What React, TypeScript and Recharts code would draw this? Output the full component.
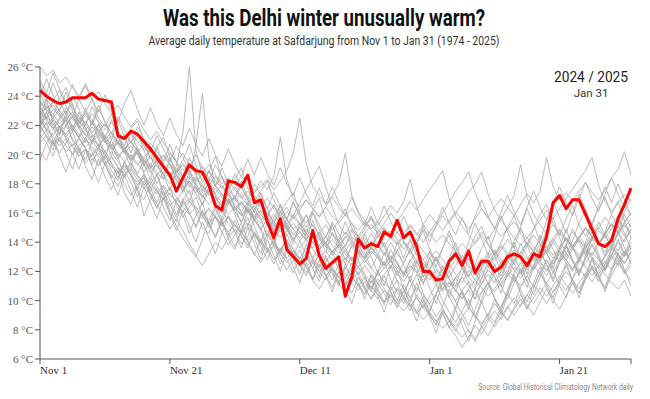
import { Line, LineChart, XAxis, YAxis } from 'recharts';

const seasonLabel = '2024 / 2025';
const lastDayLabel = 'Jan 31';

// x ticks every 20 days, last one only closes the axis
const xTickDays = [0, 20, 40, 60, 80, 91];
const xTickLabels = ['Nov 1', 'Nov 21', 'Dec 11', 'Jan 1', 'Jan 21', ''];
const yTicks = [6, 8, 10, 12, 14, 16, 18, 20, 22, 24, 26];

// 2024/25, Nov 1 .. Jan 31
const current = [
  24.4, 24.0, 23.7, 23.5, 23.6, 23.9, 23.9, 23.9, 24.2, 23.8,
  23.7, 23.6, 21.3, 21.1, 21.6, 21.4, 20.9, 20.4, 19.8, 19.2,
  18.6, 17.5, 18.4, 19.3, 18.9, 18.8, 17.9, 16.5, 16.2, 18.2,
  18.1, 17.8, 18.6, 16.7, 16.9, 15.4, 14.3, 15.6, 13.5, 13.0,
  12.5, 12.9, 14.8, 13.1, 12.2, 12.6, 13.0, 10.3, 11.6, 14.2,
  13.6, 13.9, 13.7, 14.7, 14.4, 15.5, 14.3, 14.7, 13.7, 12.0,
  12.0, 11.4, 11.5, 12.7, 13.2, 12.4, 13.4, 11.9, 12.7, 12.7,
  12.0, 12.3, 13.0, 13.2, 13.0, 12.4, 13.2, 13.0, 14.4, 16.7,
  17.2, 16.3, 16.9, 16.9, 15.9, 14.9, 13.9, 13.7, 14.1, 15.6,
  16.6, 17.7,
];

const past01 = [
  26.0, 25.4, 25.8, 24.9, 25.3, 24.6, 24.0, 24.7, 23.8, 24.3,
  23.5, 22.8, 23.4, 22.6, 21.9, 22.5, 21.7, 21.0, 21.6, 20.8,
  20.2, 19.5, 20.1, 19.3, 18.6, 19.2, 18.4, 17.9, 18.5, 17.6,
  17.1, 17.8, 16.9, 16.3, 16.8, 16.0, 15.4, 16.1, 15.6, 14.9,
  15.3, 14.6, 14.0, 14.7, 13.9, 13.3, 14.1, 13.6, 12.8, 13.4,
  12.9, 13.7, 13.1, 12.4, 13.0, 12.6, 11.9, 12.7, 13.4, 12.8,
  12.2, 12.9, 12.3, 11.6, 12.4, 13.1, 12.5, 11.8, 12.6, 13.3,
  12.7, 13.5, 14.2, 13.6, 12.9, 13.8, 14.5, 13.9, 13.2, 14.0,
  14.8, 14.1, 13.5, 14.3, 15.0, 14.4, 13.8, 14.6, 15.3, 14.7,
  14.0, 14.9,
];
const past02 = [
  20.8, 21.3, 20.6, 21.0, 20.2, 20.7, 19.9, 20.4, 19.6, 20.1,
  19.4, 19.9, 19.1, 18.5, 19.0, 18.3, 17.7, 18.2, 17.5, 16.9,
  17.4, 16.7, 16.1, 16.8, 16.2, 15.6, 16.3, 15.7, 15.1, 15.8,
  15.2, 14.6, 15.3, 14.7, 14.1, 14.8, 14.0, 13.4, 14.1, 13.5,
  12.9, 13.6, 13.0, 12.3, 12.9, 12.2, 11.6, 12.3, 11.7, 11.0,
  11.6, 10.9, 11.5, 10.8, 10.2, 10.9, 10.3, 9.6, 10.2, 9.5,
  9.0, 8.4, 9.1, 8.2, 7.6, 6.8, 7.5, 8.3, 7.7, 8.6,
  9.3, 8.7, 9.5, 10.2, 9.6, 10.4, 11.1, 10.5, 9.8, 10.6,
  11.3, 10.7, 11.5, 12.2, 11.6, 12.4, 11.8, 12.5, 13.2, 12.6,
  13.3, 12.7,
];
const past03 = [
  23.0, 22.4, 23.1, 22.7, 22.0, 22.6, 21.8, 22.3, 21.5, 22.0,
  21.3, 20.6, 21.2, 20.5, 19.8, 20.4, 19.6, 19.0, 19.7, 19.1,
  18.4, 19.2, 21.5, 26.0, 20.3, 18.6, 17.9, 18.5, 17.8, 17.2,
  17.8, 17.1, 16.5, 17.2, 16.6, 15.9, 16.5, 15.8, 15.2, 15.9,
  15.3, 14.6, 15.2, 14.5, 13.9, 14.6, 14.0, 13.4, 14.1, 13.5,
  12.9, 13.6, 13.0, 12.4, 13.1, 12.5, 11.8, 12.4, 11.9, 12.6,
  12.0, 11.4, 12.1, 11.5, 10.9, 11.6, 11.0, 10.4, 11.1, 11.8,
  11.2, 12.0, 12.7, 12.1, 11.5, 12.3, 13.0, 12.4, 11.7, 12.5,
  13.2, 12.6, 12.0, 12.8, 13.5, 12.9, 12.2, 13.0, 13.7, 13.1,
  12.5, 13.3,
];
const past04 = [
  22.1, 22.9, 23.4, 22.8, 22.2, 21.6, 22.3, 22.9, 22.4, 21.7,
  21.1, 21.5, 20.8, 20.3, 20.9, 21.4, 20.6, 19.8, 19.4, 19.9,
  19.3, 18.8, 19.4, 18.9, 18.2, 18.7, 19.3, 18.6, 18.0, 18.4,
  17.9, 18.5, 18.1, 17.4, 17.8, 18.3, 17.6, 18.2, 18.9, 20.1,
  22.5, 19.4, 17.8, 17.2, 16.6, 17.1, 16.4, 15.8, 16.3, 15.7,
  15.1, 15.6, 14.9, 14.3, 14.8, 14.2, 13.5, 14.1, 13.4, 12.8,
  13.3, 12.7, 12.1, 12.8, 13.4, 12.9, 12.3, 11.7, 12.2, 12.9,
  13.5, 12.8, 12.2, 12.7, 13.3, 14.0, 13.4, 12.8, 13.5, 14.2,
  13.6, 13.0, 13.7, 14.4, 13.8, 13.1, 13.9, 14.6, 14.0, 13.4,
  14.2, 14.9,
];
const past05 = [
  21.4, 20.8, 21.5, 22.0, 21.3, 20.6, 21.1, 20.4, 19.9, 20.5,
  20.0, 19.4, 18.8, 19.3, 18.6, 17.9, 18.4, 17.8, 17.3, 17.9,
  17.2, 16.8, 17.5, 18.3, 20.6, 24.2, 19.8, 17.9, 17.3, 16.8,
  16.2, 16.7, 16.1, 15.5, 15.9, 15.3, 14.8, 15.4, 14.9, 14.2,
  14.7, 14.1, 13.6, 14.2, 13.7, 13.1, 13.8, 14.4, 13.9, 13.3,
  12.8, 13.4, 12.9, 12.2, 12.7, 12.1, 11.6, 12.2, 12.8, 12.3,
  11.7, 11.1, 10.6, 11.2, 10.7, 10.1, 10.8, 11.4, 10.9, 10.3,
  10.8, 11.5, 12.1, 11.6, 11.0, 11.7, 12.4, 11.8, 11.2, 11.9,
  12.6, 13.2, 12.7, 12.0, 12.6, 13.3, 12.8, 12.1, 12.9, 13.5,
  13.0, 13.6,
];
const past06 = [
  23.6, 23.0, 22.5, 23.1, 23.7, 23.2, 22.6, 22.1, 22.8, 22.3,
  21.7, 22.2, 21.6, 21.0, 21.5, 20.9, 20.3, 20.8, 20.2, 19.6,
  20.1, 19.5, 18.9, 19.4, 18.8, 18.3, 18.9, 18.2, 17.7, 18.3,
  17.6, 17.0, 17.5, 16.9, 16.4, 17.0, 16.3, 15.8, 16.4, 15.7,
  15.2, 15.8, 15.1, 14.6, 15.2, 14.5, 14.0, 14.7, 14.1, 13.6,
  14.3, 13.7, 14.4, 15.0, 14.5, 13.9, 14.6, 15.2, 14.6, 14.0,
  14.7, 15.4, 14.8, 15.5, 16.1, 15.5, 14.9, 15.6, 16.3, 15.7,
  16.4, 17.0, 16.4, 15.8, 16.6, 17.3, 16.7, 17.5, 19.8, 17.8,
  16.9, 17.4, 16.8, 17.5, 18.1, 17.4, 16.9, 17.6, 18.4, 19.0,
  20.2, 18.6,
];
const past07 = [
  22.3, 21.7, 22.4, 21.9, 21.2, 21.8, 21.1, 20.5, 21.0, 20.3,
  19.7, 20.2, 19.5, 18.9, 19.4, 18.6, 18.0, 17.3, 16.6, 15.8,
  14.9, 15.6, 14.8, 13.9, 13.1, 12.4, 13.2, 14.0, 13.5, 14.3,
  14.9, 14.4, 13.8, 14.5, 13.9, 13.3, 13.8, 13.2, 12.6, 13.1,
  12.5, 11.9, 12.6, 12.0, 11.4, 12.1, 11.6, 11.0, 11.7, 12.3,
  11.8, 11.2, 11.9, 11.3, 10.7, 11.4, 10.8, 10.2, 10.9, 10.4,
  9.8, 10.5, 11.2, 10.6, 10.0, 10.7, 11.3, 10.8, 11.5, 12.1,
  11.6, 11.0, 11.7, 12.3, 11.8, 12.5, 13.1, 12.6, 12.0, 12.7,
  13.3, 12.8, 12.1, 12.9, 13.6, 13.0, 12.4, 13.1, 13.8, 13.2,
  12.6, 13.4,
];
const past08 = [
  22.7, 23.3, 22.8, 22.1, 22.6, 21.9, 22.5, 21.8, 21.2, 21.7,
  21.0, 20.4, 20.9, 20.2, 19.6, 20.1, 19.4, 18.8, 19.3, 18.6,
  18.0, 18.6, 17.9, 17.3, 17.8, 17.2, 16.6, 17.1, 16.5, 15.9,
  16.4, 15.8, 16.3, 15.6, 15.0, 15.5, 14.9, 14.3, 14.8, 14.2,
  13.6, 14.2, 13.5, 12.9, 13.4, 12.8, 12.3, 12.9, 12.4, 11.8,
  12.4, 11.8, 11.2, 11.8, 12.4, 11.9, 11.3, 12.0, 12.6, 12.0,
  11.4, 12.1, 11.5, 10.9, 11.6, 12.2, 11.6, 11.1, 11.8, 12.4,
  11.9, 12.6, 13.2, 12.5, 11.9, 12.6, 13.3, 12.7, 12.1, 12.8,
  13.4, 12.8, 12.2, 12.9, 12.3, 11.7, 12.4, 11.8, 11.2, 10.8,
  11.4, 10.3,
];
const past09 = [
  22.9, 22.3, 21.8, 22.5, 23.0, 22.4, 21.9, 21.3, 21.9, 21.4,
  20.8, 21.3, 20.7, 20.1, 20.6, 20.0, 19.3, 19.8, 19.2, 18.7,
  19.2, 18.6, 18.0, 18.5, 17.9, 17.4, 18.0, 17.3, 16.7, 17.2,
  16.6, 16.1, 16.7, 16.1, 15.5, 16.0, 15.4, 14.9, 15.5, 14.9,
  14.3, 14.9, 14.3, 13.8, 14.4, 13.8, 13.2, 13.8, 14.4, 13.9,
  14.6, 15.2, 14.6, 15.3, 16.0, 15.4, 16.1, 16.8, 16.2, 16.9,
  17.6, 18.2, 18.9, 17.0, 15.8, 15.1, 14.5, 13.9, 14.5, 13.8,
  13.2, 13.8, 13.3, 12.7, 13.3, 12.8, 13.5, 14.1, 13.6, 14.3,
  14.9, 14.3, 13.7, 14.4, 15.0, 14.4, 13.9, 14.6, 15.2, 14.7,
  15.4, 16.0,
];
const past10 = [
  21.9, 21.3, 20.7, 21.2, 20.6, 20.0, 20.6, 21.1, 20.5, 19.9,
  19.3, 19.8, 19.2, 18.6, 19.1, 18.5, 17.9, 18.4, 17.8, 17.2,
  17.7, 17.1, 16.5, 17.0, 16.4, 15.8, 16.3, 15.7, 15.2, 15.7,
  15.1, 14.6, 15.1, 14.5, 13.9, 14.5, 13.9, 13.3, 13.8, 13.2,
  12.7, 13.2, 12.6, 12.0, 12.5, 11.9, 11.3, 11.9, 11.2, 10.7,
  11.3, 10.7, 10.1, 10.7, 10.1, 9.6, 10.2, 9.6, 9.1, 9.7,
  9.1, 8.6, 9.3, 8.7, 8.2, 8.9, 9.5, 9.0, 8.4, 9.1,
  9.8, 9.2, 8.7, 9.4, 10.1, 9.5, 10.2, 10.9, 10.3, 11.0,
  11.7, 11.1, 10.5, 11.2, 11.9, 11.3, 12.0, 12.7, 12.1, 12.8,
  13.4, 12.9,
];
const past11 = [
  23.3, 23.8, 23.2, 22.6, 23.2, 22.7, 22.1, 22.7, 22.2, 21.6,
  22.1, 21.5, 20.9, 21.4, 20.8, 20.2, 20.7, 20.1, 19.5, 20.0,
  19.4, 18.8, 19.3, 18.7, 18.1, 18.6, 18.0, 17.4, 17.9, 17.3,
  16.8, 17.3, 16.7, 17.4, 18.2, 17.6, 18.5, 21.2, 18.3, 17.0,
  16.4, 16.9, 16.3, 15.7, 16.4, 17.2, 18.0, 20.1, 17.2, 16.1,
  15.5, 14.9, 15.4, 14.8, 14.2, 14.7, 14.1, 13.5, 14.0, 13.4,
  12.9, 13.4, 12.8, 12.2, 12.8, 12.3, 11.7, 12.3, 12.9, 12.4,
  13.0, 13.7, 13.1, 12.5, 13.2, 13.9, 13.3, 12.7, 13.4, 14.0,
  13.4, 12.8, 13.5, 14.2, 13.6, 14.3, 15.0, 14.4, 13.8, 14.5,
  15.2, 14.6,
];
const past12 = [
  22.0, 22.6, 22.1, 21.5, 22.0, 22.6, 22.0, 21.4, 20.9, 21.5,
  20.9, 20.3, 20.8, 20.3, 19.7, 20.2, 19.6, 19.1, 19.6, 19.0,
  18.4, 18.9, 18.3, 17.8, 18.4, 17.8, 17.2, 17.7, 17.1, 16.6,
  17.1, 16.5, 16.0, 16.5, 15.9, 15.4, 15.9, 15.3, 14.8, 15.3,
  14.7, 14.2, 14.8, 14.2, 13.7, 14.2, 13.6, 14.3, 14.9, 14.4,
  15.1, 15.7, 15.1, 15.8, 16.5, 16.0, 16.8, 18.3, 16.4, 15.2,
  14.6, 14.0, 14.5, 13.9, 13.4, 13.9, 13.4, 14.0, 14.7, 14.2,
  14.9, 15.6, 16.4, 17.2, 19.3, 17.1, 15.9, 15.2, 14.6, 15.2,
  14.6, 14.1, 14.7, 14.1, 13.6, 14.2, 14.8, 14.3, 14.9, 15.5,
  15.0, 15.6,
];
const past13 = [
  23.7, 23.1, 23.6, 23.0, 22.4, 22.9, 22.3, 21.7, 22.2, 21.6,
  21.0, 21.5, 20.9, 20.4, 20.9, 20.3, 19.8, 20.3, 19.7, 19.1,
  18.6, 19.1, 18.5, 18.0, 18.5, 17.9, 17.4, 17.9, 17.3, 16.8,
  16.3, 16.8, 16.2, 15.7, 16.2, 15.6, 15.1, 15.6, 15.0, 14.5,
  15.0, 14.4, 13.9, 14.4, 13.8, 13.3, 13.8, 13.2, 12.7, 13.2,
  12.6, 13.2, 13.8, 13.3, 12.8, 13.4, 14.0, 13.5, 14.2, 14.9,
  14.4, 15.1, 15.8, 15.3, 16.0, 16.7, 17.4, 18.0, 18.8, 17.3,
  16.2, 15.5, 14.9, 15.4, 14.8, 14.3, 14.9, 15.5, 16.2, 15.6,
  16.3, 17.0, 17.6, 18.3, 18.9, 19.8, 17.9, 16.8, 16.1, 16.7,
  17.3, 16.8,
];
const past14 = [
  21.1, 21.7, 21.2, 20.6, 21.1, 20.5, 19.9, 20.4, 19.8, 19.3,
  19.8, 19.2, 18.7, 19.2, 18.6, 18.1, 18.6, 18.0, 17.5, 17.0,
  16.5, 17.0, 16.4, 15.9, 16.4, 15.8, 15.3, 15.8, 15.2, 14.7,
  15.2, 14.6, 14.1, 14.6, 14.0, 13.5, 14.0, 13.4, 12.9, 13.4,
  12.8, 12.3, 12.8, 12.2, 11.7, 12.2, 11.6, 11.1, 11.6, 11.0,
  10.5, 11.0, 10.4, 9.9, 10.4, 9.8, 9.3, 9.8, 9.2, 8.7,
  9.2, 8.6, 8.1, 8.6, 8.0, 7.5, 8.0, 7.4, 8.1, 8.8,
  8.2, 8.9, 9.6, 9.0, 9.7, 10.4, 9.8, 10.5, 11.2, 10.6,
  11.3, 12.0, 11.4, 10.8, 11.5, 12.2, 11.6, 12.3, 13.0, 12.4,
  13.1, 13.8,
];
const past15 = [
  22.6, 22.0, 22.5, 21.9, 22.4, 21.8, 21.2, 21.7, 21.1, 20.6,
  21.1, 20.5, 19.9, 20.4, 19.8, 19.3, 19.8, 19.2, 18.6, 19.1,
  18.5, 18.0, 18.5, 17.9, 17.4, 17.9, 17.3, 16.8, 17.3, 16.7,
  16.2, 16.7, 16.1, 15.6, 16.1, 15.5, 15.0, 15.5, 16.1, 15.6,
  16.2, 16.9, 16.3, 15.8, 16.4, 15.8, 15.3, 15.9, 15.3, 14.8,
  15.4, 14.8, 14.3, 14.9, 14.3, 13.8, 14.4, 15.1, 14.5, 15.2,
  15.9, 15.3, 16.0, 16.7, 17.5, 18.1, 18.8, 17.4, 16.3, 15.6,
  15.0, 14.4, 14.9, 14.3, 13.8, 14.3, 13.7, 13.2, 13.7, 13.1,
  13.6, 14.2, 13.7, 14.3, 14.9, 14.4, 15.0, 15.7, 15.1, 15.8,
  16.4, 15.9,
];
const past16 = [
  22.4, 21.8, 21.3, 21.9, 21.4, 22.0, 21.4, 20.8, 21.3, 20.7,
  20.2, 20.7, 20.1, 19.5, 20.0, 19.4, 18.8, 19.4, 18.8, 18.3,
  18.8, 18.2, 17.7, 18.2, 17.6, 17.1, 17.6, 17.0, 16.5, 17.0,
  16.4, 15.9, 16.4, 15.8, 15.3, 15.8, 15.2, 14.7, 15.2, 14.6,
  14.1, 14.6, 14.0, 13.5, 14.0, 13.4, 12.9, 13.4, 12.8, 12.3,
  12.8, 12.2, 11.7, 12.2, 12.8, 12.3, 11.8, 12.4, 11.9, 11.4,
  11.9, 11.3, 10.8, 11.3, 10.7, 10.2, 10.7, 10.1, 10.6, 11.2,
  10.6, 11.2, 11.9, 11.3, 12.0, 12.7, 12.1, 12.8, 13.5, 12.9,
  13.6, 14.3, 13.7, 13.1, 13.7, 14.4, 13.8, 14.5, 15.2, 14.6,
  15.3, 16.0,
];
const past17 = [
  24.8, 23.6, 24.9, 23.8, 22.7, 24.0, 23.1, 22.0, 23.3, 22.2,
  21.1, 22.4, 21.3, 20.1, 21.5, 20.4, 19.2, 20.6, 19.5, 18.3,
  19.8, 18.6, 17.4, 18.9, 17.8, 16.5, 17.9, 16.8, 15.6, 17.0,
  15.9, 14.7, 16.2, 15.1, 14.0, 15.4, 14.3, 13.1, 14.6, 13.5,
  12.4, 13.9, 12.8, 11.6, 13.1, 12.0, 11.0, 12.5, 11.4, 12.8,
  11.7, 10.6, 12.1, 11.0, 12.4, 11.3, 10.2, 11.7, 10.6, 12.0,
  10.9, 9.8, 11.3, 10.2, 11.6, 10.5, 9.4, 10.9, 12.2, 11.1,
  12.5, 11.4, 12.8, 14.0, 12.9, 11.8, 13.2, 14.5, 13.3, 12.2,
  13.6, 14.9, 13.7, 12.6, 14.0, 15.3, 14.1, 13.0, 14.4, 15.7,
  14.6, 13.5,
];
const past18 = [
  23.9, 25.2, 24.1, 22.9, 24.3, 23.0, 21.8, 23.2, 22.1, 23.4,
  22.2, 21.0, 22.4, 21.2, 20.1, 21.5, 20.3, 19.1, 20.5, 19.4,
  20.7, 19.5, 18.4, 19.8, 18.7, 17.5, 18.9, 17.8, 19.1, 18.0,
  16.9, 18.2, 17.1, 16.0, 17.4, 16.3, 15.2, 16.6, 15.5, 16.8,
  15.7, 14.6, 16.0, 14.9, 13.8, 15.2, 14.1, 15.4, 14.3, 13.2,
  14.6, 13.5, 14.8, 13.7, 12.6, 14.0, 12.9, 14.2, 13.1, 12.0,
  13.4, 12.3, 13.6, 14.8, 13.7, 12.6, 14.0, 15.3, 14.2, 13.1,
  14.5, 15.8, 14.7, 13.6, 15.0, 16.3, 15.2, 14.1, 15.5, 16.8,
  15.7, 14.6, 16.0, 17.3, 16.2, 15.1, 16.5, 17.8, 16.7, 18.0,
  16.9, 15.8,
];
const past19 = [
  20.2, 19.6, 21.0, 19.9, 18.8, 20.1, 19.0, 20.3, 19.2, 18.1,
  19.4, 18.3, 17.2, 18.6, 17.5, 16.4, 17.8, 16.7, 15.6, 17.0,
  15.9, 14.8, 16.2, 15.1, 14.0, 15.4, 14.3, 13.2, 14.6, 15.8,
  14.7, 13.6, 15.0, 13.9, 12.8, 14.2, 13.1, 12.0, 13.4, 12.3,
  11.2, 12.6, 11.5, 12.8, 11.7, 10.6, 12.0, 10.9, 9.8, 11.2,
  10.1, 11.4, 10.3, 9.2, 10.6, 9.5, 10.8, 9.7, 8.6, 10.0,
  8.9, 7.8, 9.2, 8.1, 9.4, 8.3, 7.2, 8.6, 9.9, 8.8,
  10.1, 9.0, 10.4, 11.6, 10.5, 9.4, 10.8, 12.0, 10.9, 9.8,
  11.2, 12.4, 11.3, 10.2, 11.6, 12.8, 11.7, 10.6, 12.0, 13.2,
  12.1, 11.0,
];
const past20 = [
  22.2, 23.5, 22.4, 21.3, 22.7, 21.6, 22.9, 21.8, 20.7, 22.1,
  21.0, 19.9, 21.3, 20.2, 19.1, 20.5, 19.4, 18.3, 19.7, 18.6,
  17.5, 18.9, 17.8, 16.7, 18.1, 17.0, 18.3, 17.2, 16.1, 17.5,
  16.4, 15.3, 16.7, 15.6, 16.9, 15.8, 14.7, 16.1, 15.0, 13.9,
  15.3, 14.2, 15.5, 14.4, 13.3, 14.7, 13.6, 12.5, 13.9, 12.8,
  14.1, 13.0, 11.9, 13.3, 12.2, 13.5, 12.4, 11.3, 12.7, 11.6,
  12.9, 11.8, 10.7, 12.1, 11.0, 12.3, 11.2, 10.1, 11.5, 12.7,
  11.6, 10.5, 11.9, 13.1, 12.0, 10.9, 12.3, 13.5, 12.4, 11.3,
  12.7, 13.9, 12.8, 11.7, 13.1, 14.3, 13.2, 12.1, 13.5, 14.7,
  13.6, 12.5,
];
const past21 = [
  23.4, 22.5, 23.7, 24.4, 23.3, 22.6, 23.8, 22.9, 22.0, 23.1,
  22.3, 21.4, 22.6, 21.7, 20.8, 21.9, 21.1, 20.2, 21.3, 20.4,
  19.5, 20.6, 19.8, 18.9, 20.0, 19.1, 18.2, 19.3, 18.5, 17.6,
  18.7, 17.8, 16.9, 18.0, 17.2, 16.3, 17.4, 16.5, 15.6, 16.7,
  15.9, 15.0, 16.1, 15.2, 14.3, 15.4, 14.6, 13.7, 14.8, 13.9,
  13.0, 14.1, 13.3, 12.4, 13.5, 12.6, 11.7, 12.8, 12.0, 11.1,
  12.2, 11.3, 12.4, 11.5, 10.6, 11.7, 12.9, 12.0, 11.1, 12.2,
  13.4, 12.5, 11.6, 12.7, 13.9, 13.0, 12.1, 13.2, 14.4, 13.5,
  12.6, 13.7, 14.9, 14.0, 13.1, 14.2, 15.4, 14.5, 13.6, 14.7,
  15.9, 15.0,
];
const past22 = [
  21.8, 22.9, 21.9, 20.9, 22.0, 21.0, 20.1, 21.2, 20.2, 19.2,
  20.3, 19.4, 18.4, 19.5, 18.5, 17.6, 18.7, 17.7, 16.7, 17.8,
  16.9, 15.9, 17.0, 16.0, 15.1, 16.2, 15.2, 16.3, 15.4, 14.4,
  15.5, 14.5, 13.6, 14.7, 13.7, 12.8, 13.9, 14.9, 14.0, 13.0,
  14.1, 13.1, 12.2, 13.3, 12.3, 11.4, 12.5, 11.5, 12.6, 11.7,
  10.7, 11.8, 10.8, 9.9, 11.0, 10.0, 11.1, 10.2, 9.2, 10.3,
  9.3, 10.4, 9.5, 8.5, 9.6, 10.6, 9.7, 10.8, 9.8, 10.9,
  12.0, 11.0, 10.1, 11.2, 12.2, 11.3, 12.4, 13.4, 12.5, 11.5,
  12.6, 13.7, 12.7, 11.8, 12.9, 13.9, 13.0, 12.0, 13.1, 14.2,
  13.2, 14.3,
];
const past23 = [
  19.6, 20.8, 19.9, 21.2, 20.1, 19.0, 20.4, 19.2, 18.3, 19.7,
  18.5, 17.6, 18.9, 17.4, 16.6, 17.8, 15.8, 16.9, 17.7, 16.4,
  15.5, 16.8, 15.9, 14.6, 15.8, 16.7, 15.3, 14.4, 15.6, 14.2,
  13.5, 14.8, 15.7, 14.3, 13.2, 14.6, 13.8, 12.5, 13.7, 12.9,
  11.8, 13.1, 12.2, 11.3, 12.6, 13.4, 12.1, 11.0, 12.3, 11.2,
  10.4, 11.7, 10.6, 9.7, 11.0, 12.1, 10.8, 9.9, 11.2, 10.1,
  9.2, 10.5, 11.6, 10.3, 9.4, 10.7, 9.6, 8.8, 10.1, 11.3,
  10.2, 9.3, 10.6, 11.8, 10.7, 9.9, 11.2, 12.3, 11.1, 10.2,
  11.5, 12.6, 11.4, 10.5, 11.8, 12.9, 11.7, 10.9, 12.2, 13.3,
  12.0, 11.4,
];
const past24 = [
  25.1, 24.2, 25.6, 24.5, 23.6, 24.8, 23.7, 24.9, 23.8, 22.9,
  24.1, 23.0, 22.2, 23.5, 24.4, 23.1, 22.0, 23.2, 22.1, 21.3,
  22.5, 21.4, 20.6, 21.8, 20.7, 19.9, 21.1, 20.0, 19.2, 20.4,
  19.3, 18.5, 19.7, 18.6, 19.8, 18.7, 17.9, 19.1, 18.0, 17.2,
  18.4, 17.3, 16.5, 17.7, 16.6, 17.8, 16.7, 15.9, 17.1, 16.0,
  15.2, 16.4, 15.3, 16.5, 15.4, 14.6, 15.8, 14.7, 13.9, 15.1,
  14.0, 15.2, 16.4, 15.3, 14.5, 15.7, 14.6, 15.8, 16.9, 15.8,
  14.9, 16.1, 17.2, 16.1, 15.2, 16.4, 17.5, 16.4, 15.5, 16.7,
  17.8, 16.7, 15.8, 17.0, 18.1, 17.0, 16.1, 17.3, 18.4, 17.3,
  16.4, 17.6,
];
const past25 = [
  22.0, 21.2, 20.3, 21.7, 22.4, 21.0, 20.5, 19.6, 20.9, 21.3,
  20.1, 18.9, 18.2, 19.5, 18.8, 17.4, 16.9, 18.0, 18.7, 17.5,
  16.2, 15.4, 16.8, 17.6, 16.1, 15.0, 14.6, 15.9, 16.5, 15.2,
  14.8, 13.9, 14.4, 15.6, 14.9, 13.6, 12.8, 13.5, 14.2, 13.1,
  12.4, 11.7, 12.9, 13.8, 12.6, 11.9, 11.1, 12.2, 13.0, 12.3,
  11.5, 10.8, 11.9, 12.7, 11.4, 10.6, 9.8, 10.9, 11.8, 10.5,
  9.7, 8.9, 9.6, 10.8, 9.9, 9.1, 8.3, 9.4, 10.6, 11.2,
  10.1, 9.5, 10.7, 11.9, 12.6, 11.3, 10.4, 11.6, 12.8, 12.1,
  11.0, 10.2, 11.5, 12.7, 13.4, 12.2, 11.3, 12.5, 13.6, 12.9,
  11.8, 12.4,
];
const past26 = [
  24.3, 23.1, 22.6, 23.9, 24.6, 23.4, 22.2, 22.9, 23.8, 22.5,
  21.9, 22.8, 21.4, 20.6, 21.8, 22.3, 20.9, 19.7, 20.5, 21.2,
  19.8, 18.9, 19.6, 20.7, 19.3, 18.1, 18.8, 19.9, 18.4, 17.6,
  18.3, 19.1, 17.7, 16.8, 17.5, 18.2, 16.9, 16.1, 16.8, 17.4,
  16.0, 15.3, 16.2, 17.0, 15.6, 14.8, 15.5, 16.3, 15.0, 14.2,
  14.9, 15.8, 14.5, 13.7, 14.4, 15.3, 14.0, 13.2, 13.9, 14.8,
  13.5, 12.7, 13.6, 14.5, 13.3, 12.5, 13.4, 14.4, 15.1, 13.9,
  13.1, 14.0, 15.0, 15.8, 14.6, 13.8, 14.9, 15.9, 16.6, 15.3,
  14.5, 15.6, 16.5, 15.2, 14.4, 15.4, 16.3, 17.1, 15.9, 15.0,
  16.1, 17.0,
];
const past27 = [
  21.5, 22.2, 21.0, 20.1, 20.8, 21.6, 20.3, 19.4, 20.0, 20.7,
  19.3, 18.4, 19.1, 18.0, 17.2, 17.9, 18.5, 17.1, 16.4, 17.0,
  17.8, 16.5, 15.7, 16.4, 17.1, 15.9, 15.0, 15.8, 14.7, 13.8,
  14.5, 15.3, 14.1, 13.2, 12.6, 13.4, 14.2, 12.9, 12.1, 12.8,
  13.5, 12.3, 11.4, 10.8, 11.6, 12.4, 11.2, 10.5, 11.3, 12.0,
  10.9, 10.1, 10.8, 11.7, 10.6, 9.8, 10.6, 11.4, 10.2, 9.5,
  10.3, 11.1, 10.0, 9.2, 8.5, 9.3, 10.1, 9.0, 8.2, 7.6,
  8.4, 9.3, 8.6, 9.5, 10.4, 9.7, 9.0, 9.9, 10.8, 10.1,
  9.4, 10.3, 11.2, 10.5, 11.4, 12.3, 11.5, 10.8, 11.7, 12.6,
  11.9, 12.8,
];
const past28 = [
  23.2, 22.5, 21.7, 22.4, 23.0, 21.9, 21.2, 22.1, 21.4, 20.5,
  21.3, 20.6, 19.7, 20.4, 19.5, 18.7, 19.6, 18.9, 18.0, 18.8,
  19.4, 18.3, 17.5, 18.2, 17.3, 16.6, 17.5, 16.8, 16.0, 16.9,
  16.1, 15.4, 16.3, 15.5, 14.8, 15.7, 16.6, 15.6, 14.9, 15.8,
  16.7, 17.6, 18.4, 19.2, 17.8, 16.4, 15.2, 14.5, 15.3, 14.4,
  13.7, 14.6, 13.8, 13.1, 14.0, 13.2, 12.6, 13.5, 12.7, 12.0,
  12.9, 12.2, 11.6, 12.5, 11.8, 11.2, 12.1, 11.4, 12.3, 13.1,
  12.4, 11.7, 12.6, 13.5, 12.8, 12.1, 13.0, 13.9, 13.2, 12.5,
  13.4, 14.3, 13.6, 12.9, 13.8, 14.7, 14.0, 13.3, 14.2, 15.1,
  14.4, 15.3,
];
const past29 = [
  22.6, 23.8, 22.1, 21.4, 22.9, 23.5, 21.8, 20.9, 22.3, 21.1,
  19.8, 21.0, 19.9, 18.4, 19.6, 20.3, 18.7, 17.5, 18.6, 17.2,
  16.0, 15.1, 14.3, 13.6, 13.0, 14.2, 15.5, 16.4, 15.3, 16.6,
  17.2, 16.0, 15.1, 16.3, 15.6, 14.4, 15.7, 16.5, 15.2, 14.1,
  15.0, 15.9, 14.6, 13.5, 14.4, 15.2, 13.9, 12.8, 13.7, 14.5,
  13.3, 12.2, 13.1, 14.0, 12.8, 11.7, 12.6, 13.5, 12.3, 11.2,
  12.1, 13.0, 11.8, 12.9, 14.0, 12.7, 11.6, 12.5, 13.6, 14.4,
  13.1, 12.0, 12.9, 14.1, 15.0, 13.8, 12.7, 13.6, 14.8, 15.7,
  14.3, 13.2, 14.1, 15.3, 16.2, 14.9, 13.8, 14.7, 15.9, 16.8,
  15.5, 14.3,
];
const past30 = [
  22.8, 21.6, 20.7, 21.9, 21.1, 20.0, 21.2, 20.4, 19.3, 20.5,
  19.6, 18.6, 17.8, 18.9, 18.1, 17.1, 18.2, 17.4, 16.3, 17.5,
  16.6, 15.7, 16.8, 16.0, 15.0, 16.1, 15.3, 14.3, 15.4, 14.6,
  13.7, 14.8, 14.0, 13.1, 14.2, 13.4, 12.5, 13.6, 12.8, 11.9,
  13.0, 12.3, 11.4, 12.5, 11.8, 10.9, 12.0, 11.3, 10.5, 11.6,
  10.9, 10.1, 11.2, 10.5, 9.7, 10.8, 10.1, 9.3, 10.4, 9.8,
  9.0, 8.3, 9.4, 8.7, 7.9, 8.8, 7.9, 7.2, 8.3, 9.1,
  8.5, 9.6, 10.5, 9.8, 10.9, 11.7, 10.9, 11.9, 12.8, 11.9,
  12.9, 13.8, 12.8, 11.9, 12.9, 13.8, 12.9, 12.1, 13.1, 14.0,
  13.1, 14.0,
];

const pastSeasons = [
  past01, past02, past03, past04, past05, past06, past07, past08, past09, past10,
  past11, past12, past13, past14, past15, past16, past17, past18, past19, past20,
  past21, past22, past23, past24, past25, past26, past27, past28, past29, past30,
];

const data = current.map((t, i) => {
  const row: Record<string, number> = { day: i, current: t };
  pastSeasons.forEach((s, k) => {
    row[`p${k}`] = s[i];
  });
  return row;
});

const serif = "'Liberation Serif', 'Times New Roman', serif";
const sans = "Roboto, 'Noto Sans', sans-serif";

function DayTick({ x, y, payload }: any) {
  const label = xTickLabels[xTickDays.indexOf(payload.value)];
  return (
    <text x={x} y={y} dy="0.71em" textAnchor="start" fontFamily={serif} fontSize={11} fill="#333">
      {label}
    </text>
  );
}

export default function App() {
  return (
    <div style={{ position: 'absolute', left: 0, top: 0, width: 650, height: 399, background: '#fff' }}>
      <LineChart width={650} height={399} data={data} margin={{ top: 67, right: 19, bottom: 10, left: 0 }}>
        <XAxis
          type="number"
          dataKey="day"
          domain={[0, 91]}
          ticks={xTickDays}
          tick={<DayTick />}
          tickSize={5}
          tickMargin={2}
          height={30}
          stroke="#555"
          interval={0}
        />
        <YAxis
          type="number"
          domain={[6, 26]}
          ticks={yTicks}
          tickFormatter={(v: number) => `${v} °C`}
          tick={{ fontFamily: serif, fontSize: 11, fill: '#555' }}
          tickSize={5}
          tickMargin={2}
          width={40}
          stroke="#555"
          interval={0}
        />
        {pastSeasons.map((_, k) => (
          <Line
            key={k}
            dataKey={`p${k}`}
            stroke="#a8a8a8"
            strokeWidth={0.8}
            dot={false}
            activeDot={false}
            isAnimationActive={false}
          />
        ))}
        <Line
          dataKey="current"
          stroke="#ff0000"
          strokeWidth={3}
          strokeLinejoin="round"
          dot={false}
          activeDot={false}
          isAnimationActive={false}
        />
      </LineChart>

      <svg width={650} height={399} style={{ position: 'absolute', left: 0, top: 0, pointerEvents: 'none' }}>
        <text x={324} y={26} textAnchor="middle" fontFamily={sans} fontWeight={700} fontSize={24} fill="#111"
          textLength={322} lengthAdjust="spacingAndGlyphs">
          Was this Delhi winter unusually warm?
        </text>
        <text x={324} y={45} textAnchor="middle" fontFamily={sans} fontSize={12.5} fill="#333"
          textLength={351} lengthAdjust="spacingAndGlyphs">
          Average daily temperature at Safdarjung from Nov 1 to Jan 31 (1974 - 2025)
        </text>
        <text x={591} y={82} textAnchor="middle" fontFamily={sans} fontSize={15} fill="#222"
          textLength={74} lengthAdjust="spacingAndGlyphs">
          {seasonLabel}
        </text>
        <text x={591} y={97} textAnchor="middle" fontFamily={sans} fontSize={11.5} fill="#333">
          {lastDayLabel}
        </text>
        <g transform="translate(633 390) scale(0.8 1)">
          <text x={0} y={0} textAnchor="end" fontFamily={sans} fontSize={8.5} fill="#888">
            Source: Global Historical Climatology Network daily
          </text>
        </g>
      </svg>
    </div>
  );
}
